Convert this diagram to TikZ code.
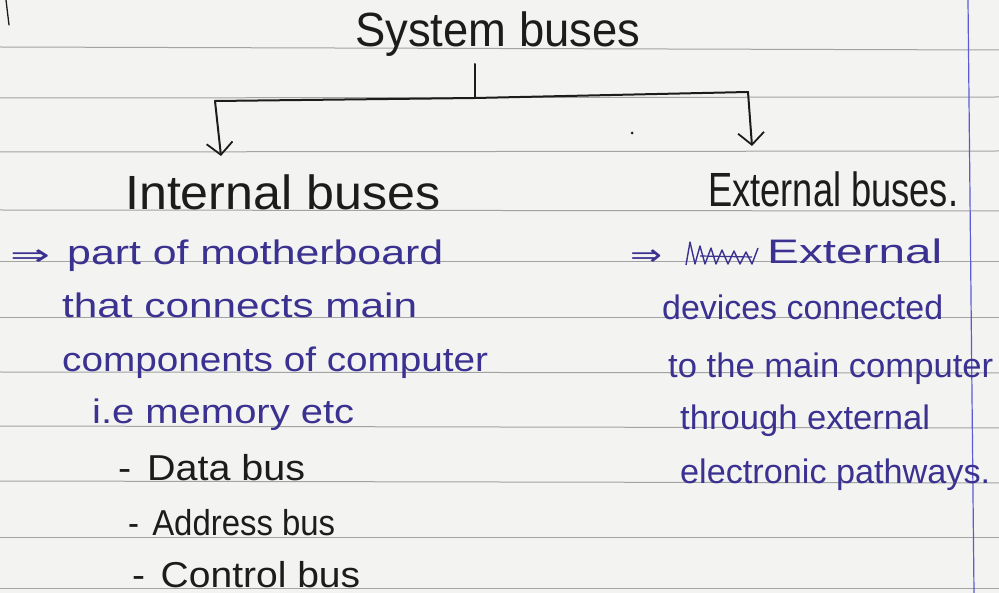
\documentclass[tikz,border=0pt]{standalone}
\usepackage{fontspec}
\setmainfont{Liberation Sans}
\newfontfamily\symf{DejaVu Sans}
\usetikzlibrary{arrows.meta}
\definecolor{paper}{HTML}{F3F3F1}
\definecolor{rulec}{HTML}{A3A3A3}
\definecolor{ink}{HTML}{1C1C1C}
\definecolor{blueink}{HTML}{3A3190}
\definecolor{marginc}{HTML}{5B5BD6}
\newcommand{\hw}[2]{\resizebox{#1}{\height}{#2}}
\tikzset{
  head/.style={inner sep=0pt, anchor=base west, text=ink, font=\fontsize{48}{48}\selectfont},
  note/.style={inner sep=0pt, anchor=base west, text=blueink, font=\fontsize{34}{34}\selectfont},
  item/.style={inner sep=0pt, anchor=base west, text=ink, font=\fontsize{36}{36}\selectfont},
  imp/.style={inner sep=0pt, anchor=base west, font=\symf\fontsize{30}{30}\selectfont},
  conn/.style={draw=ink, line width=2pt, line cap=round},
  arr/.style={conn, -{Straight Barb[length=12pt,width=26pt,line width=1.8pt]}},
  ruling/.style={draw=rulec, line width=1pt},
}
\begin{document}
\begin{tikzpicture}[x=1pt,y=-1pt]
\useasboundingbox (0,0) rectangle (999,593);
\fill[paper] (0,0) rectangle (999,593);
% ruled lines
\foreach \a/\b in {47/50,98/97,152/151,210/211,262/262,318/318,372/373,426/428,481/483,537/537,588/588}
  \draw[ruling] (0,\a) -- (999,\b);
% margin line
\draw[draw=marginc, line width=1.2pt] (968,0) -- (974,593);
% stray stroke top-left
\draw[conn, line width=1.3pt] (6,0) -- (9,25);
% titles
\node[head] (sys) at (355,47) {\hw{285pt}{System buses}};
\node[head] (int) at (125,210) {\hw{315pt}{Internal buses}};
\node[head] (ext) at (708,207) {\hw{250pt}{External buses.}};
% connectors
\coordinate (s0) at (475,64);
\coordinate (j) at (475,98);
\coordinate (lc) at (215,101);
\coordinate (rc) at (748,92);
\coordinate (lt) at (221,156);
\coordinate (rt) at (752,146);
\draw[conn] (s0) -- (j);
\draw[conn] (lc) -- (j) -- (rc);
\draw[arr] (lc) -- (lt);
\draw[arr] (rc) -- (rt);
\fill[ink] (632,133) circle (1.5);
% left notes
\node[imp, text=blueink] (la) at (10,266) {\hw{40pt}{⇒}};
\node[note] (l1) at (67,265) {\hw{376pt}{part of motherboard}};
\node[note] (l2) at (62,318) {\hw{355pt}{that connects main}};
\node[note] (l3) at (62,372) {\hw{426pt}{components of computer}};
\node[note] (l4) at (92,424) {\hw{262pt}{i.e memory etc}};
\node[item] (b1) at (118,480) {\hw{187pt}{-\hspace{0.4em}Data bus}};
\node[item] (b2) at (128,535) {\hw{207pt}{-\hspace{0.4em}Address bus}};
\node[item] (b3) at (132,587) {\hw{228pt}{-\hspace{0.4em}Control bus}};
% right notes
\node[imp, text=blueink] (ra) at (630,266) {\hw{32pt}{⇒}};
\draw[draw=blueink, line width=1.4pt, line join=round]
  (686,265) -- (690,242) -- (695,264) -- (700,246) -- (705,264) -- (711,248) -- (716,264)
  -- (722,250) -- (728,264) -- (734,251) -- (740,264) -- (746,252) -- (752,264) -- (758,248);
\draw[draw=blueink, line width=1.2pt] (700,256) -- (752,257);
\node[note] (r1) at (767,264) {\hw{175pt}{External}};
\node[note] (r2) at (662,320) {\hw{281pt}{devices connected}};
\node[note] (r3) at (668,378) {\hw{325pt}{to the main computer}};
\node[note] (r4) at (680,430) {\hw{250pt}{through external}};
\node[note] (r5) at (680,483) {\hw{310pt}{electronic pathways.}};
\end{tikzpicture}
\end{document}
